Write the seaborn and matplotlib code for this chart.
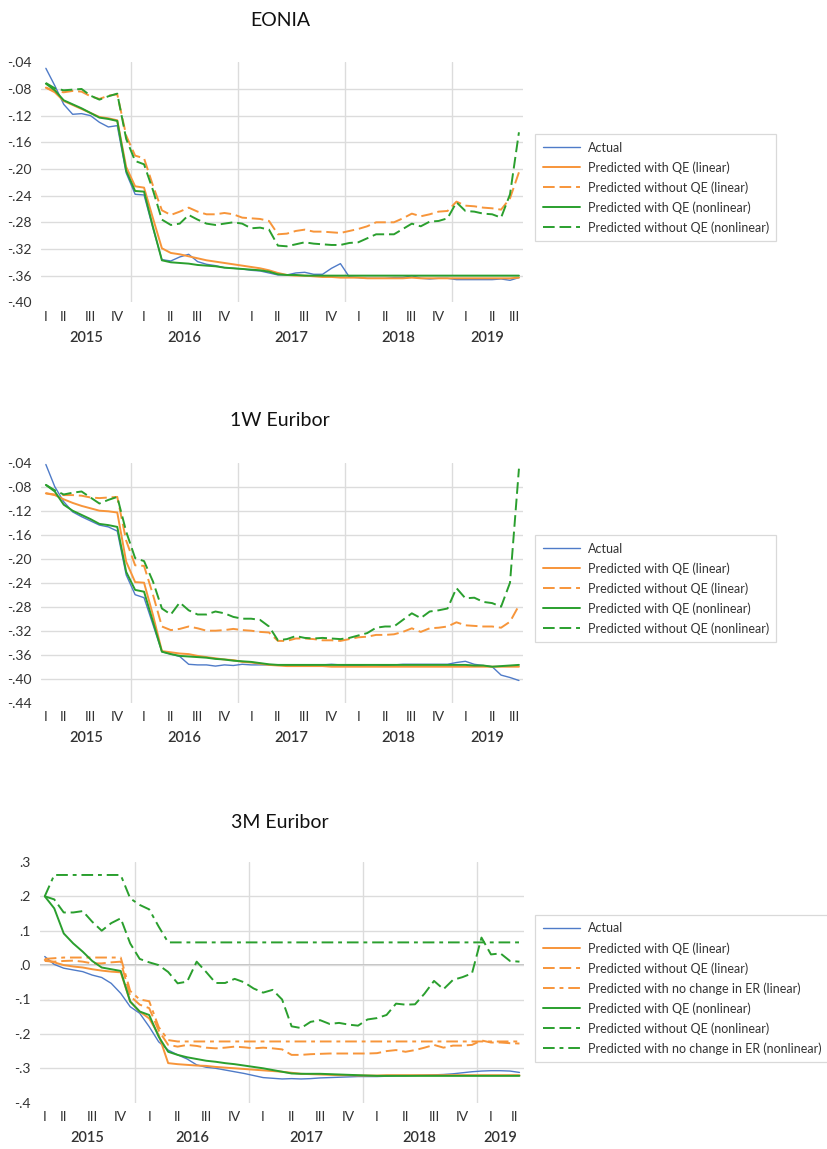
import numpy as np
import pandas as pd
import matplotlib
matplotlib.use('Agg')
import matplotlib.pyplot as plt
import matplotlib.transforms as mtransforms
from matplotlib.ticker import FuncFormatter
import seaborn as sns

sns.set_theme(style='white')
plt.rcParams['font.family'] = ['Lato', 'DejaVu Sans']

BLUE = '#4F7BC8'
ORANGE = '#F7953A'
GREEN = '#2A9F2E'
GRID = '#DCDCDC'
TEXT = '#333333'

# monthly periods
months_short = pd.period_range('2015-03', '2019-08', freq='M')   # EONIA, 1W
months_3m = pd.period_range('2015-03', '2019-05', freq='M')      # 3M

# ---------------- EONIA ----------------
eonia_actual = [-0.049, -0.075, -0.103, -0.118, -0.117, -0.120, -0.130, -0.137, -0.135, -0.206,
                -0.238, -0.239, -0.289, -0.336, -0.338, -0.332, -0.328, -0.339, -0.343, -0.345, -0.348, -0.349,
                -0.350, -0.352, -0.353, -0.356, -0.359, -0.359, -0.356, -0.355, -0.358, -0.358, -0.349, -0.342,
                -0.362, -0.363, -0.364, -0.364, -0.364, -0.363, -0.363, -0.360, -0.364, -0.365, -0.364, -0.364,
                -0.366, -0.366, -0.366, -0.366, -0.366, -0.365, -0.367, -0.363]
eonia_qe_lin = [-0.078, -0.085, -0.098, -0.104, -0.110, -0.116, -0.122, -0.124, -0.127, -0.197,
                -0.226, -0.228, -0.274, -0.319, -0.326, -0.328, -0.331, -0.334, -0.337, -0.339, -0.341, -0.343,
                -0.345, -0.347, -0.349, -0.352, -0.356, -0.359, -0.360, -0.360, -0.361, -0.362, -0.362, -0.363,
                -0.363, -0.363, -0.364, -0.364, -0.364, -0.364, -0.364, -0.363, -0.364, -0.364, -0.364, -0.364,
                -0.364, -0.364, -0.364, -0.364, -0.364, -0.364, -0.364, -0.363]
eonia_noqe_lin = [-0.078, -0.083, -0.085, -0.083, -0.084, -0.091, -0.095, -0.090, -0.088, -0.150,
                  -0.180, -0.184, -0.225, -0.262, -0.269, -0.264, -0.258, -0.264, -0.268, -0.268, -0.266, -0.268,
                  -0.273, -0.274, -0.275, -0.278, -0.298, -0.297, -0.293, -0.291, -0.294, -0.294, -0.295, -0.296,
                  -0.293, -0.290, -0.286, -0.280, -0.280, -0.280, -0.274, -0.267, -0.271, -0.268, -0.264, -0.263,
                  -0.249, -0.255, -0.256, -0.258, -0.259, -0.261, -0.244, -0.205]
eonia_qe_nl = [-0.072, -0.082, -0.097, -0.103, -0.109, -0.116, -0.123, -0.125, -0.128, -0.203,
               -0.233, -0.234, -0.287, -0.337, -0.340, -0.341, -0.342, -0.344, -0.345, -0.346, -0.348, -0.349,
               -0.350, -0.351, -0.352, -0.354, -0.358, -0.359, -0.359, -0.360, -0.360, -0.360, -0.360, -0.360,
               -0.360, -0.360, -0.360, -0.360, -0.360, -0.360, -0.360, -0.360, -0.360, -0.360, -0.360, -0.360,
               -0.360, -0.360, -0.360, -0.360, -0.360, -0.360, -0.360, -0.360]
eonia_noqe_nl = [-0.071, -0.079, -0.082, -0.081, -0.080, -0.090, -0.096, -0.091, -0.087, -0.155,
                 -0.188, -0.193, -0.232, -0.276, -0.284, -0.282, -0.269, -0.276, -0.282, -0.284, -0.282, -0.280,
                 -0.282, -0.289, -0.288, -0.291, -0.315, -0.316, -0.313, -0.310, -0.312, -0.313, -0.314, -0.314,
                 -0.311, -0.310, -0.304, -0.298, -0.298, -0.298, -0.290, -0.282, -0.286, -0.279, -0.278, -0.274,
                 -0.250, -0.263, -0.264, -0.267, -0.268, -0.273, -0.238, -0.145]

# ---------------- 1W Euribor ----------------
w1_actual = [-0.043, -0.080, -0.105, -0.122, -0.130, -0.137, -0.144, -0.147, -0.154, -0.227,
             -0.260, -0.265, -0.310, -0.355, -0.359, -0.363, -0.376, -0.377, -0.377, -0.379, -0.377, -0.378,
             -0.376, -0.377, -0.377, -0.377, -0.377, -0.378, -0.378, -0.378, -0.377, -0.377, -0.376, -0.377,
             -0.378, -0.378, -0.377, -0.377, -0.378, -0.377, -0.376, -0.376, -0.376, -0.376, -0.376, -0.376,
             -0.373, -0.371, -0.376, -0.378, -0.380, -0.394, -0.398, -0.403]
w1_qe_lin = [-0.091, -0.094, -0.101, -0.107, -0.112, -0.116, -0.120, -0.121, -0.123, -0.205,
             -0.239, -0.240, -0.294, -0.354, -0.356, -0.358, -0.359, -0.362, -0.364, -0.366, -0.368, -0.369,
             -0.372, -0.373, -0.375, -0.377, -0.378, -0.379, -0.379, -0.379, -0.379, -0.379, -0.380, -0.380,
             -0.380, -0.380, -0.380, -0.380, -0.380, -0.380, -0.380, -0.380, -0.380, -0.380, -0.380, -0.380,
             -0.380, -0.380, -0.380, -0.380, -0.380, -0.380, -0.380, -0.380]
w1_noqe_lin = [-0.091, -0.093, -0.094, -0.094, -0.095, -0.098, -0.099, -0.098, -0.097, -0.170,
               -0.211, -0.212, -0.260, -0.313, -0.319, -0.317, -0.313, -0.316, -0.320, -0.320, -0.319, -0.317,
               -0.319, -0.320, -0.322, -0.323, -0.337, -0.337, -0.333, -0.333, -0.334, -0.336, -0.336, -0.337,
               -0.334, -0.331, -0.330, -0.327, -0.327, -0.326, -0.322, -0.316, -0.322, -0.316, -0.315, -0.313,
               -0.306, -0.311, -0.312, -0.313, -0.313, -0.315, -0.305, -0.278]
w1_qe_nl = [-0.077, -0.088, -0.110, -0.120, -0.127, -0.134, -0.142, -0.144, -0.147, -0.222,
            -0.252, -0.255, -0.305, -0.355, -0.359, -0.362, -0.363, -0.364, -0.365, -0.367, -0.368, -0.370,
            -0.371, -0.372, -0.374, -0.376, -0.377, -0.377, -0.377, -0.377, -0.377, -0.377, -0.377, -0.377,
            -0.377, -0.377, -0.377, -0.377, -0.377, -0.377, -0.377, -0.377, -0.377, -0.377, -0.377, -0.377,
            -0.377, -0.377, -0.378, -0.378, -0.380, -0.379, -0.378, -0.377]
w1_noqe_nl = [-0.077, -0.086, -0.093, -0.090, -0.088, -0.098, -0.108, -0.102, -0.097, -0.155,
              -0.199, -0.204, -0.238, -0.283, -0.293, -0.273, -0.286, -0.293, -0.293, -0.288, -0.291, -0.297,
              -0.300, -0.300, -0.302, -0.313, -0.336, -0.334, -0.329, -0.332, -0.333, -0.332, -0.333, -0.334,
              -0.332, -0.328, -0.324, -0.315, -0.313, -0.313, -0.302, -0.291, -0.299, -0.288, -0.286, -0.283,
              -0.249, -0.266, -0.265, -0.272, -0.274, -0.280, -0.240, -0.050]

# ---------------- 3M Euribor ----------------
m3_actual = [0.025, 0.002, -0.009, -0.014, -0.019, -0.029, -0.036, -0.053, -0.082, -0.121,
             -0.140, -0.179, -0.223, -0.247, -0.261, -0.273, -0.290, -0.297, -0.300, -0.305, -0.310, -0.315,
             -0.321, -0.327, -0.329, -0.331, -0.330, -0.331, -0.330, -0.328, -0.327, -0.326, -0.325, -0.324,
             -0.324, -0.324, -0.323, -0.322, -0.322, -0.321, -0.320, -0.319, -0.318, -0.316, -0.313, -0.310,
             -0.308, -0.307, -0.307, -0.308, -0.312]
m3_qe_lin = [0.015, 0.008, 0.000, -0.004, -0.007, -0.012, -0.016, -0.019, -0.021, -0.106,
             -0.135, -0.155, -0.203, -0.285, -0.288, -0.290, -0.292, -0.293, -0.296, -0.298, -0.300, -0.302,
             -0.304, -0.306, -0.308, -0.310, -0.313, -0.316, -0.317, -0.318, -0.319, -0.320, -0.320, -0.321,
             -0.321, -0.321, -0.320, -0.320, -0.320, -0.320, -0.320, -0.320, -0.320, -0.320, -0.320, -0.320,
             -0.320, -0.320, -0.320, -0.320, -0.320]
m3_noqe_lin = [0.012, 0.010, 0.012, 0.013, 0.010, 0.005, 0.005, 0.008, 0.010, -0.090,
               -0.115, -0.125, -0.190, -0.232, -0.237, -0.232, -0.235, -0.240, -0.242, -0.240, -0.237, -0.239,
               -0.242, -0.240, -0.242, -0.245, -0.261, -0.261, -0.259, -0.258, -0.257, -0.257, -0.257, -0.257,
               -0.257, -0.256, -0.250, -0.247, -0.252, -0.247, -0.240, -0.232, -0.240, -0.234, -0.234, -0.232,
               -0.219, -0.225, -0.225, -0.227, -0.228]
m3_noer_lin = [0.018, 0.020, 0.022, 0.022, 0.022, 0.022, 0.022, 0.022, 0.022, -0.075,
               -0.100, -0.105, -0.180, -0.218, -0.222, -0.222, -0.222, -0.222, -0.222, -0.222, -0.222, -0.222,
               -0.222, -0.222, -0.222, -0.222, -0.222, -0.222, -0.222, -0.222, -0.222, -0.222, -0.222, -0.222,
               -0.222, -0.222, -0.222, -0.222, -0.222, -0.222, -0.222, -0.222, -0.222, -0.222, -0.222, -0.222,
               -0.222, -0.222, -0.222, -0.222, -0.222]
m3_qe_nl = [0.200, 0.165, 0.092, 0.063, 0.039, 0.012, -0.007, -0.012, -0.017, -0.106,
            -0.135, -0.145, -0.208, -0.252, -0.261, -0.268, -0.273, -0.278, -0.281, -0.285, -0.288, -0.292,
            -0.296, -0.300, -0.305, -0.310, -0.315, -0.316, -0.316, -0.316, -0.317, -0.318, -0.319, -0.320,
            -0.321, -0.322, -0.322, -0.322, -0.322, -0.322, -0.322, -0.322, -0.322, -0.322, -0.322, -0.322,
            -0.322, -0.322, -0.322, -0.322, -0.322]
m3_noqe_nl = [0.200, 0.191, 0.153, 0.153, 0.157, 0.126, 0.100, 0.122, 0.136, 0.063,
              0.018, 0.008, 0.000, -0.020, -0.053, -0.048, 0.010, -0.020, -0.052, -0.052, -0.040, -0.050,
              -0.068, -0.080, -0.072, -0.100, -0.178, -0.183, -0.165, -0.160, -0.171, -0.168, -0.173, -0.176,
              -0.158, -0.154, -0.145, -0.112, -0.115, -0.114, -0.083, -0.046, -0.070, -0.043, -0.035, -0.024,
              0.080, 0.031, 0.034, 0.012, 0.010]
m3_noer_nl = [0.200, 0.262, 0.262, 0.262, 0.262, 0.262, 0.262, 0.262, 0.262, 0.194,
              0.175, 0.162, 0.112, 0.066, 0.066, 0.066, 0.066, 0.066, 0.066, 0.066, 0.066, 0.066,
              0.066, 0.066, 0.066, 0.066, 0.066, 0.066, 0.066, 0.066, 0.066, 0.066, 0.066, 0.066,
              0.066, 0.066, 0.066, 0.066, 0.066, 0.066, 0.066, 0.066, 0.066, 0.066, 0.066, 0.066,
              0.066, 0.066, 0.066, 0.066, 0.066]

SOLID = '-'
LONG = (0, (6, 2.5))
DASHDOT = (0, (6, 2.5, 2, 2.5))
ROMAN = {1: 'I', 2: 'II', 3: 'III', 4: 'IV'}


def short_fmt(decimals):
    def f(v, pos):
        s = f'{v:.{decimals}f}'
        if s.startswith('-0.'):
            s = '-' + s[2:]
        elif s.startswith('0.'):
            s = s[1:]
        if s.startswith('-') and float(s) == 0:
            s = s[1:]
        return s
    return FuncFormatter(f)


def draw_panel(ax, months, series, yticks, decimals, zero_line=False):
    x = np.arange(len(months))
    for label, values, color, style, lw in series:
        df = pd.DataFrame({'x': x, 'y': values})
        sns.lineplot(data=df, x='x', y='y', ax=ax, color=color, linewidth=lw,
                     linestyle=style, label=label, errorbar=None, legend=False)
    ax.set_xlim(-0.5, len(months) - 0.5)
    ax.set_ylim(yticks[0], yticks[-1])
    ax.set_yticks(yticks)
    ax.yaxis.set_major_formatter(short_fmt(decimals))
    ax.set_xlabel('')
    ax.set_ylabel('')
    for s in ax.spines.values():
        s.set_visible(False)
    ax.grid(axis='y', color=GRID, linewidth=1.0)
    ax.set_axisbelow(True)
    gl = ax.yaxis.get_gridlines()
    gl[0].set_visible(False)
    gl[-1].set_visible(False)
    if zero_line:
        ax.axhline(0, color='#BDBDBD', linewidth=1.3, zorder=0.5)

    # year boundaries
    for i, p in enumerate(months):
        if p.month == 1:
            ax.axvline(i - 0.5, color=GRID, linewidth=1.0, zorder=0)

    # quarter labels centred on the months in each quarter
    mdf = pd.DataFrame({'pos': x, 'year': [p.year for p in months],
                        'q': [p.quarter for p in months]})
    qc = mdf.groupby(['year', 'q'])['pos'].mean().reset_index()
    ax.set_xticks(qc['pos'])
    ax.set_xticklabels([ROMAN[q] for q in qc['q']])
    ax.tick_params(axis='x', length=0, pad=6, labelsize=10, labelcolor=TEXT)
    ax.tick_params(axis='y', length=0, pad=7, labelsize=10, labelcolor=TEXT)

    yc = mdf.groupby('year')['pos'].mean()
    trans = mtransforms.blended_transform_factory(ax.transData, ax.transAxes)
    for year, pos in yc.items():
        ax.text(pos, -0.148, str(year), transform=trans, ha='center', va='center',
                fontsize=10.5, color=TEXT, fontweight='semibold')


W, H = 827, 1149
fig = plt.figure(figsize=(W / 100, H / 100), dpi=100)

ax1 = fig.add_axes([41.4 / W, 1 - 302.3 / H, 482 / W, 240 / H])
ax2 = fig.add_axes([41.4 / W, 1 - 702.7 / H, 482 / W, 240 / H])
ax3 = fig.add_axes([40 / W, 1 - 1102.7 / H, 484.2 / W, 240.8 / H])

draw_panel(ax1, months_short, [
    ('Actual', eonia_actual, BLUE, SOLID, 1.0),
    ('Predicted with QE (linear)', eonia_qe_lin, ORANGE, SOLID, 1.4),
    ('Predicted without QE (linear)', eonia_noqe_lin, ORANGE, LONG, 1.4),
    ('Predicted with QE (nonlinear)', eonia_qe_nl, GREEN, SOLID, 1.4),
    ('Predicted without QE (nonlinear)', eonia_noqe_nl, GREEN, LONG, 1.4),
], np.round(np.arange(-0.40, -0.039, 0.04), 2), 2)

draw_panel(ax2, months_short, [
    ('Actual', w1_actual, BLUE, SOLID, 1.0),
    ('Predicted with QE (linear)', w1_qe_lin, ORANGE, SOLID, 1.4),
    ('Predicted without QE (linear)', w1_noqe_lin, ORANGE, LONG, 1.4),
    ('Predicted with QE (nonlinear)', w1_qe_nl, GREEN, SOLID, 1.4),
    ('Predicted without QE (nonlinear)', w1_noqe_nl, GREEN, LONG, 1.4),
], np.round(np.arange(-0.44, -0.039, 0.04), 2), 2)

draw_panel(ax3, months_3m, [
    ('Actual', m3_actual, BLUE, SOLID, 1.0),
    ('Predicted with QE (linear)', m3_qe_lin, ORANGE, SOLID, 1.4),
    ('Predicted without QE (linear)', m3_noqe_lin, ORANGE, LONG, 1.4),
    ('Predicted with no change in ER (linear)', m3_noer_lin, ORANGE, DASHDOT, 1.4),
    ('Predicted with QE (nonlinear)', m3_qe_nl, GREEN, SOLID, 1.4),
    ('Predicted without QE (nonlinear)', m3_noqe_nl, GREEN, LONG, 1.4),
    ('Predicted with no change in ER (nonlinear)', m3_noer_nl, GREEN, DASHDOT, 1.4),
], np.round(np.arange(-0.4, 0.31, 0.1), 1), 1, zero_line=True)

# titles
for ax_top, title in [(20, 'EONIA'), (420, '1W Euribor'), (822, '3M Euribor')]:
    fig.text(280 / W, 1 - ax_top / H, title, ha='center', va='center', fontsize=14, color='#111111')

# legends outside to the right
for ax, top in [(ax1, 134), (ax2, 535), (ax3, 915)]:
    handles, labels = ax.get_legend_handles_labels()
    leg = fig.legend(handles, labels, loc='upper left', bbox_to_anchor=(535 / W, 1 - top / H),
                     fontsize=9, frameon=True, fancybox=False, edgecolor='#D0D0D0',
                     handlelength=3.0, handletextpad=0.6, labelspacing=0.6, borderpad=0.6,
                     borderaxespad=0)
    leg.get_frame().set_linewidth(0.9)
    for t in leg.get_texts():
        t.set_color(TEXT)

fig.savefig('out.png', dpi=100)
